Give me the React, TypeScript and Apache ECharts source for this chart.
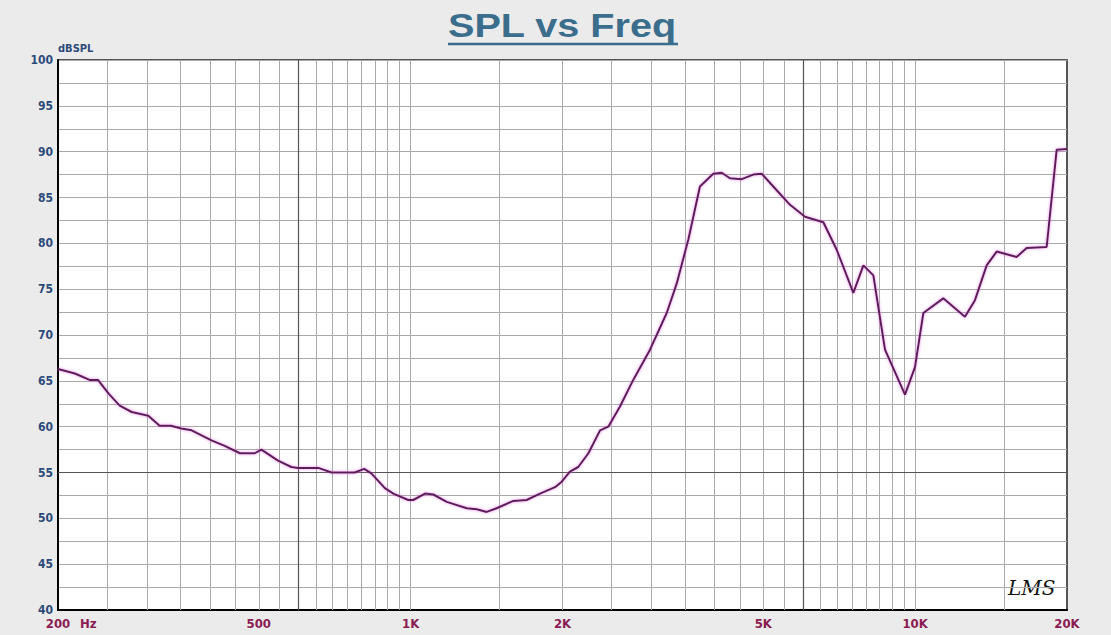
import React, { useEffect, useRef } from "react";
import * as echarts from "echarts";

// Measured response (frequency in Hz, level in dB SPL)
const freqs = [200, 216, 231, 240, 252, 265, 280, 302, 318, 335, 351, 368, 403, 428, 459, 491, 506, 546, 580, 598, 656, 697, 775, 809, 836, 889, 924, 989, 1012, 1068, 1109, 1179, 1292, 1352, 1415, 1481, 1598, 1698, 1805, 1933, 1993, 2069, 2149, 2251, 2374, 2465, 2600, 2762, 2982, 3218, 3368, 3551, 3745, 3980, 4136, 4295, 4531, 4777, 4963, 5234, 5650, 6050, 6577, 6991, 7543, 7896, 8264, 8715, 9548, 9994, 10382, 11369, 12554, 13140, 13861, 14508, 15894, 16636, 18227, 19078, 20000];
const spl = [66.3, 65.8, 65.1, 65.1, 63.6, 62.3, 61.6, 61.2, 60.1, 60.1, 59.8, 59.6, 58.5, 57.9, 57.1, 57.1, 57.5, 56.3, 55.6, 55.5, 55.5, 55.0, 55.0, 55.4, 54.9, 53.3, 52.7, 52.0, 52.0, 52.7, 52.6, 51.8, 51.1, 51.0, 50.7, 51.1, 51.9, 52.0, 52.7, 53.4, 54.0, 55.1, 55.6, 57.1, 59.6, 60.0, 62.2, 65.1, 68.4, 72.4, 75.6, 80.4, 86.2, 87.6, 87.7, 87.1, 87.0, 87.5, 87.6, 86.2, 84.2, 82.9, 82.3, 79.3, 74.6, 77.6, 76.5, 68.4, 63.5, 66.5, 72.4, 74.0, 72.0, 73.8, 77.6, 79.1, 78.5, 79.5, 79.6, 90.2, 90.3];

// Frequency grid lines
const gridFreqs = [250, 300, 350, 400, 450, 500, 550, 650, 700, 750, 800, 850, 900, 950, 1000, 1500, 2000, 2500, 3000, 3500, 4000, 4500, 5000, 5500, 6500, 7000, 7500, 8000, 8500, 9000, 9500, 10000, 15000];
const darkFreqs = [600, 6000];
const darkLevels = [55];

// Frequency tick labels
const tickFreqs = [200, 500, 1000, 2000, 5000, 10000, 20000];
const tickLabels = ["200", "500", "1K", "2K", "5K", "10K", "20K"];

const FONT = "'Liberation Sans Narrow', 'DejaVu Sans Condensed', sans-serif";
const XLAB = "#8a1c52";
const YLAB = "#2c4a7a";

export default function App() {
  const ref = useRef<HTMLDivElement>(null);
  useEffect(() => {
    if (!ref.current) return;
    const chart = echarts.init(ref.current, null, { renderer: "svg" });
    const xLabel = (text: string) => ({
      show: true,
      position: "start",
      formatter: text,
      color: XLAB,
      fontFamily: FONT,
      fontWeight: "bold",
      fontSize: 13,
      distance: 7,
    });
    const markData: any[] = [];
    gridFreqs.forEach((f) => {
      const idx = tickFreqs.indexOf(f);
      const d: any = { xAxis: f };
      if (idx >= 0) d.label = xLabel(tickLabels[idx]);
      markData.push(d);
    });
    darkFreqs.forEach((f) => markData.push({ xAxis: f, lineStyle: { color: "#555555", width: 1.2 } }));
    darkLevels.forEach((v) => markData.push({ yAxis: v, lineStyle: { color: "#555555", width: 1.2 } }));
    tickFreqs.forEach((f, i) => {
      if (gridFreqs.indexOf(f) < 0) {
        markData.push({
          xAxis: f,
          lineStyle: { color: "rgba(0,0,0,0)", width: 0 },
          label: xLabel(tickLabels[i]),
        });
      }
    });

    const option: any = {
      animation: false,
      backgroundColor: "#ebebeb",
      grid: {
        left: 58,
        top: 60,
        width: 1009,
        height: 550,
        show: true,
        backgroundColor: "#ffffff",
        borderColor: "#222222",
        borderWidth: 1.5,
      },
      xAxis: {
        type: "log",
        logBase: 10,
        min: 200,
        max: 20000,
        axisLine: { show: true, onZero: false, lineStyle: { color: "#000", width: 2 } },
        axisTick: { show: false },
        axisLabel: { show: false },
        splitLine: { show: false },
        minorSplitLine: { show: false },
      },
      yAxis: {
        type: "value",
        min: 40,
        max: 100,
        interval: 5,
        name: "dBSPL",
        nameLocation: "end",
        nameGap: 3,
        nameTextStyle: {
          align: "left",
          verticalAlign: "bottom",
          color: YLAB,
          fontFamily: FONT,
          fontWeight: "bold",
          fontSize: 11,
          padding: [0, 0, 0, 0],
        },
        axisLine: { show: true, lineStyle: { color: "#000", width: 2 } },
        axisTick: { show: false },
        axisLabel: { color: YLAB, fontFamily: FONT, fontWeight: "bold", fontSize: 12, margin: 5 },
        splitLine: { show: true, lineStyle: { color: "#a9a9a9", width: 1 } },
        minorTick: { show: false, splitNumber: 2 },
        minorSplitLine: { show: true, lineStyle: { color: "#a9a9a9", width: 1 } },
      },
      graphic: [
        {
          type: "text",
          x: 448,
          y: 42,
          scaleX: 1.2,
          style: {
            text: "SPL vs Freq",
            fill: "#3b6d8c",
            font: "bold 33px 'Liberation Sans', Arial, sans-serif",
            textAlign: "left",
            textVerticalAlign: "bottom",
          },
        },
        {
          type: "line",
          shape: { x1: 448, y1: 44, x2: 678, y2: 44 },
          style: { stroke: "#3b6d8c", lineWidth: 2.5 },
        },
        {
          type: "text",
          x: 80,
          y: 617,
          style: {
            text: "Hz",
            fill: XLAB,
            font: "bold 13px " + FONT,
            textAlign: "left",
            textVerticalAlign: "top",
          },
        },
        {
          type: "text",
          x: 1008,
          y: 598,
          style: {
            text: "LMS",
            fill: "#111111",
            font: "italic 20px 'DejaVu Serif', serif",
            textAlign: "left",
            textVerticalAlign: "bottom",
          },
        },
      ],
      series: [
        {
          type: "line",
          data: freqs.map((f, i) => [f, spl[i]]),
          symbol: "none",
          smooth: false,
          lineStyle: {
            color: "#5c1c58",
            width: 2,
            shadowColor: "rgba(225,110,225,0.8)",
            shadowBlur: 3,
          },
          z: 5,
          markLine: {
            silent: true,
            symbol: "none",
            animation: false,
            label: { show: false },
            lineStyle: { color: "#a9a9a9", width: 1, type: "solid" },
            emphasis: { disabled: true },
            data: markData,
            z: 1,
          },
        },
      ],
    };
    chart.setOption(option);
    return () => chart.dispose();
  }, []);
  return (
    <div
      ref={ref}
      style={{ position: "absolute", left: 0, top: 0, width: 1111, height: 635 }}
    />
  );
}
